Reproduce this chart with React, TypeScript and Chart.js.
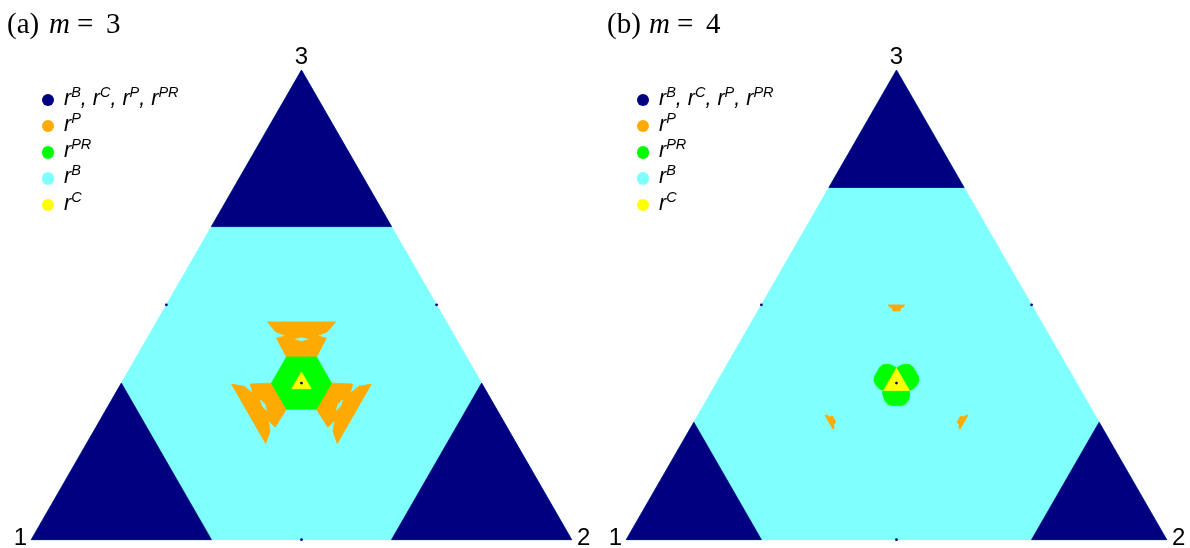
import React, { useEffect, useRef } from "react";
import { Chart, registerables } from "chart.js";

Chart.register(...registerables);

type Tern = [number, number, number]; // barycentric (a1, a2, a3) toward vertices 1, 2, 3

// ---------- colours ----------
const NAVY = "#000080";
const ORANGE = "#FFAA00";
const GREEN = "#00FF00";
const CYAN = "#80FFFF";
const YELLOW = "#FFFF00";

// ---------- text ----------
const PANEL_LETTERS = ["(a)", "(b)"];
const M_VALUES = ["3", "4"];
const VERTEX_LABELS = ["1", "2", "3"];
const LEGEND_COLORS = [NAVY, ORANGE, GREEN, CYAN, YELLOW];
const LEGEND_SUPERSCRIPTS = [["B", "C", "P", "PR"], ["P"], ["PR"], ["B"], ["C"]];

// ---------- data (barycentric coordinates) ----------
// size of the corner regions where every rule gives the same result
const CORNER_FRACTIONS = [1 / 3, 1 / 4];

// points where all rules coincide: edge midpoints and centroid
const TIE_POINTS: Tern[] = [
  [0.5, 0.5, 0],
  [0, 0.5, 0.5],
  [0.5, 0, 0.5],
  [1 / 3, 1 / 3, 1 / 3],
];

// m = 3 : r^P region on the vertex-3 side (the other two are its 120° rotations)
const M3_ORANGE_TOP: Tern[] = [
  [0.3313, 0.2049, 0.4637],
  [0.2049, 0.3313, 0.4637],
  [0.2307, 0.3265, 0.4429],
  [0.2543, 0.3114, 0.4344],
  [0.2394, 0.3315, 0.429],
  [0.2778, 0.3333, 0.3889],
  [0.3333, 0.2778, 0.3889],
  [0.3315, 0.2394, 0.429],
  [0.3114, 0.2543, 0.4344],
  [0.3265, 0.2307, 0.4429],
];
// small r^B hole inside that region
const M3_GAP_TOP: Tern[] = [
  [0.285, 0.285, 0.43],
  [0.2754, 0.2976, 0.4269],
  [0.2881, 0.2881, 0.4237],
  [0.2976, 0.2754, 0.4269],
];
// m = 3 : r^PR hexagon
const M3_GREEN: Tern[] = [
  [0.2778, 0.3889, 0.3333],
  [0.2778, 0.3333, 0.3889],
  [0.3333, 0.2778, 0.3889],
  [0.3889, 0.2778, 0.3333],
  [0.3889, 0.3333, 0.2778],
  [0.3333, 0.3889, 0.2778],
];
// m = 3 : r^C triangle
const M3_YELLOW: Tern[] = [
  [0.3214, 0.3214, 0.3571],
  [0.3571, 0.3214, 0.3214],
  [0.3214, 0.3571, 0.3214],
];

// m = 4 : r^P spot on the vertex-3 side
const M4_ORANGE_TOP: Tern[] = [
  [0.2654, 0.2348, 0.4998],
  [0.2348, 0.2654, 0.4998],
  [0.2406, 0.2645, 0.4949],
  [0.2447, 0.2613, 0.4939],
  [0.25, 0.2629, 0.4871],
  [0.2629, 0.25, 0.4871],
  [0.2613, 0.2447, 0.4939],
  [0.2645, 0.2406, 0.4949],
];
// m = 4 : r^PR lobe on the edge-12 side
const M4_GREEN_LOBE: Tern[] = [
  [0.3652, 0.3174, 0.3174],
  [0.371, 0.3212, 0.3078],
  [0.3735, 0.3293, 0.2972],
  [0.3722, 0.3391, 0.2887],
  [0.3665, 0.3481, 0.2855],
  [0.348, 0.3665, 0.2855],
  [0.3391, 0.3722, 0.2887],
  [0.3293, 0.3735, 0.2972],
  [0.3212, 0.371, 0.3078],
  [0.3174, 0.3652, 0.3174],
];
// m = 4 : r^C triangle
const M4_YELLOW: Tern[] = [
  [0.3174, 0.3174, 0.3652],
  [0.3652, 0.3174, 0.3174],
  [0.3174, 0.3652, 0.3174],
];

// ---------- helpers ----------
const H = Math.sqrt(3) / 2;
const toXY = (p: Tern) => ({ x: p[1] + p[2] / 2, y: p[2] * H });
const rot1 = (p: Tern): Tern => [p[2], p[0], p[1]];
const rot2 = (p: Tern): Tern => [p[1], p[2], p[0]];
const threeFold = (poly: Tern[]): Tern[][] => [poly, poly.map(rot1), poly.map(rot2)];
const cornerTriangles = (c: number): Tern[][] => [
  [[1, 0, 0], [1 - c, c, 0], [1 - c, 0, c]],
  [[0, 1, 0], [0, 1 - c, c], [c, 1 - c, 0]],
  [[0, 0, 1], [c, 0, 1 - c], [0, c, 1 - c]],
];

const polygon = (pts: Tern[], color: string, order: number) => ({
  type: "line" as const,
  data: [...pts, pts[0]].map(toXY),
  order,
  borderColor: color,
  backgroundColor: color,
  borderWidth: 0.8,
  pointRadius: 0,
  pointHoverRadius: 0,
  fill: "shape" as any,
  tension: 0,
});

function buildDatasets(idx: number) {
  const ds: any[] = [];
  ds.push(polygon([[1, 0, 0], [0, 1, 0], [0, 0, 1]], CYAN, 60));
  cornerTriangles(CORNER_FRACTIONS[idx]).forEach((t) => ds.push(polygon(t, NAVY, 50)));
  if (idx === 0) {
    threeFold(M3_ORANGE_TOP).forEach((p) => ds.push(polygon(p, ORANGE, 40)));
    threeFold(M3_GAP_TOP).forEach((p) => ds.push(polygon(p, CYAN, 35)));
    ds.push(polygon(M3_GREEN, GREEN, 30));
    ds.push(polygon(M3_YELLOW, YELLOW, 20));
  } else {
    threeFold(M4_ORANGE_TOP).forEach((p) => ds.push(polygon(p, ORANGE, 40)));
    threeFold(M4_GREEN_LOBE).forEach((p) => ds.push(polygon(p, GREEN, 30)));
    ds.push(polygon(M4_YELLOW, YELLOW, 20));
  }
  ds.push({
    type: "line",
    data: TIE_POINTS.map(toXY),
    order: 0,
    showLine: false,
    fill: false,
    pointRadius: 1.4,
    pointHoverRadius: 1.4,
    pointBorderWidth: 0,
    pointBackgroundColor: NAVY,
    borderColor: NAVY,
  });
  return ds;
}

// ---------- layout ----------
const PANEL_W = 595;
const PANEL_H = 548;
const TRI_LEFT = 30; // pixel of vertex 1 inside a panel
const TRI_BASE = 541;
const PX_X = 543;
const PX_Y = 545;
const TITLE_X = [8, 13];
const TITLE_SIZE = 29;
const LEGEND_SIZE = 21.5;
const LEGEND_SUP_SIZE = 14.5;

function Panel({ idx }: { idx: number }) {
  const ref = useRef<HTMLCanvasElement>(null);
  useEffect(() => {
    const chart = new Chart(ref.current!, {
      type: "line",
      data: { datasets: buildDatasets(idx) },
      options: {
        animation: false,
        responsive: false,
        devicePixelRatio: 1,
        events: [],
        layout: { padding: 0 },
        plugins: { legend: { display: false }, tooltip: { enabled: false } },
        scales: {
          x: { type: "linear", display: false, min: -TRI_LEFT / PX_X, max: (PANEL_W - TRI_LEFT) / PX_X },
          y: { type: "linear", display: false, min: -(PANEL_H - TRI_BASE) / PX_Y, max: TRI_BASE / PX_Y },
        },
      },
    } as any);
    return () => chart.destroy();
  }, [idx]);

  const serif = "'Liberation Serif', 'Times New Roman', serif";
  const sans = "'Liberation Sans', Arial, sans-serif";
  const tx = TITLE_X[idx];
  const titleTop = 33 - 0.8375 * TITLE_SIZE;
  const titleStyle = (left: number, italic = false): React.CSSProperties => ({
    position: "absolute",
    left,
    top: titleTop,
    fontFamily: serif,
    fontSize: TITLE_SIZE,
    lineHeight: `${TITLE_SIZE}px`,
    fontStyle: italic ? "italic" : "normal",
    whiteSpace: "nowrap",
    color: "#000",
  });
  const vLabel = (style: React.CSSProperties): React.CSSProperties => ({
    position: "absolute",
    fontFamily: sans,
    fontSize: 24,
    lineHeight: "24px",
    width: 40,
    color: "#000",
    ...style,
  });
  const apexX = TRI_LEFT + PX_X / 2;

  return (
    <div style={{ position: "absolute", left: idx * PANEL_W, top: 0, width: PANEL_W, height: PANEL_H }}>
      <canvas ref={ref} width={PANEL_W} height={PANEL_H} style={{ position: "absolute", left: 0, top: 0, display: "block" }} />
      <div style={titleStyle(tx - 1)}>{PANEL_LETTERS[idx]}</div>
      <div style={titleStyle(tx + 41, true)}>m</div>
      <div style={titleStyle(tx + 69)}>=</div>
      <div style={titleStyle(tx + 98)}>{M_VALUES[idx]}</div>

      <div style={vLabel({ left: TRI_LEFT - 3 - 40, top: 545 - 20.3, textAlign: "right" })}>{VERTEX_LABELS[0]}</div>
      <div style={vLabel({ left: TRI_LEFT + PX_X + 4, top: 545 - 20.3, textAlign: "left" })}>{VERTEX_LABELS[1]}</div>
      <div style={vLabel({ left: apexX - 20, top: 64 - 20.3, textAlign: "center" })}>{VERTEX_LABELS[2]}</div>

      {LEGEND_COLORS.map((c, i) => {
        const cy = 100 + 26.2 * i;
        return (
          <React.Fragment key={i}>
            <div
              style={{
                position: "absolute",
                left: 48.3 - 6.2,
                top: cy - 6.2,
                width: 12.4,
                height: 12.4,
                borderRadius: "50%",
                background: c,
              }}
            />
            <div
              style={{
                position: "absolute",
                left: 64,
                top: cy + 6 - 0.8465 * LEGEND_SIZE,
                fontFamily: sans,
                fontStyle: "italic",
                fontSize: LEGEND_SIZE,
                lineHeight: `${LEGEND_SIZE}px`,
                whiteSpace: "nowrap",
                color: "#000",
              }}
            >
              {LEGEND_SUPERSCRIPTS[i].map((s, j) => (
                <React.Fragment key={j}>
                  {j > 0 ? ", " : ""}r
                  <span style={{ fontSize: LEGEND_SUP_SIZE, position: "relative", top: -8 }}>{s}</span>
                </React.Fragment>
              ))}
            </div>
          </React.Fragment>
        );
      })}
    </div>
  );
}

export default function App() {
  return (
    <div style={{ position: "fixed", left: 0, top: 0, width: 1190, height: 548, background: "#fff", overflow: "hidden" }}>
      <Panel idx={0} />
      <Panel idx={1} />
    </div>
  );
}
